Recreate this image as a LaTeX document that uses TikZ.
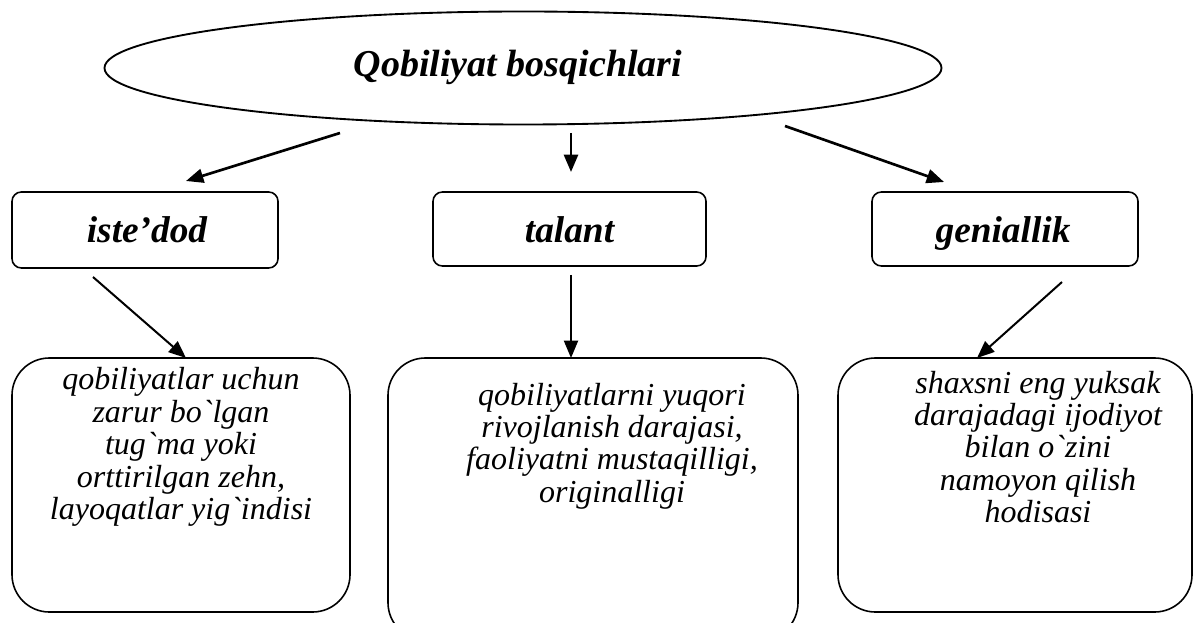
\documentclass[tikz,border=0pt]{standalone}
\usepackage{fontspec}
\setmainfont{Liberation Serif}[Ligatures=TeXOff]
\usetikzlibrary{shapes.geometric,arrows.meta}
\tikzset{
  ellbox/.style={draw,ellipse,line width=1.4pt,inner sep=0pt},
  smallbox/.style={draw,rectangle,rounded corners=7pt,line width=1.2pt,inner sep=0pt},
  bigbox/.style={draw,rectangle,rounded corners=28pt,line width=1.2pt,inner sep=0pt},
  boxtext/.style={align=center,font=\fontsize{24}{24.3}\selectfont\itshape,inner sep=0pt},
  titletext/.style={font=\fontsize{28.5}{30}\selectfont\bfseries\itshape,inner sep=0pt,anchor=base},
  headtext/.style={font=\fontsize{28}{30}\selectfont\bfseries\itshape,inner sep=0pt,anchor=base},
  toparrow/.style={line width=2pt,-{Triangle[length=13pt,width=10.5pt]}},
  lowarrow/.style={line width=1.5pt,-{Triangle[length=13pt,width=10.5pt]}}
}
\begin{document}
\begin{tikzpicture}[x=0.75pt,y=-0.75pt]
\useasboundingbox (0,0) rectangle (1194,623);
% title ellipse
\node[ellbox,minimum width=627.75pt,minimum height=84.75pt] (ell) at (523,68) {};
\node[titletext] (title) at (518,77) {Qobiliyat bosqichlari};
% middle boxes
\node[smallbox,minimum width=199.5pt,minimum height=57pt] (b1) at (145,230) {};
\node[headtext] (l1) at (147,243) {iste’dod};
\node[smallbox,minimum width=204.75pt,minimum height=55.5pt] (b2) at (569.5,229) {};
\node[headtext] (l2) at (569.5,243) {talant};
\node[smallbox,minimum width=199.5pt,minimum height=55.5pt] (b3) at (1005,229) {};
\node[headtext] (l3) at (1003,243) {geniallik};
% bottom boxes
\node[bigbox,minimum width=253.5pt,minimum height=190.5pt] (c1) at (181,485) {};
\node[boxtext] (t1) at (181,447) {qobiliyatlar uchun\\zarur bo`lgan\\tug`ma yoki\\orttirilgan zehn,\\layoqatlar yig`indisi};
\node[bigbox,minimum width=307.5pt,minimum height=211.5pt] (c2) at (593,499) {};
\node[boxtext] (t2) at (612,446) {qobiliyatlarni yuqori\\rivojlanish darajasi,\\faoliyatni mustaqilligi,\\originalligi};
\node[bigbox,minimum width=265.5pt,minimum height=190.5pt] (c3) at (1015,485) {};
\node[boxtext] (t3) at (1038,447) {shaxsni eng yuksak\\darajadagi ijodiyot\\bilan o`zini\\namoyon qilish\\hodisasi};
% arrow end points
\coordinate (s1) at (340,133);
\coordinate (e1) at (186,181);
\coordinate (s2) at (571,133);
\coordinate (e2) at (571,172);
\coordinate (s3) at (785,126);
\coordinate (e3) at (944,182);
\coordinate (s4) at (93,277);
\coordinate (e4) at (186,358);
\coordinate (s5) at (571,275);
\coordinate (e5) at (571,358);
\coordinate (s6) at (1062,282);
\coordinate (e6) at (977,358);
\draw[toparrow] (s1) -- (e1);
\draw[toparrow] (s2) -- (e2);
\draw[toparrow] (s3) -- (e3);
\draw[lowarrow] (s4) -- (e4);
\draw[lowarrow] (s5) -- (e5);
\draw[lowarrow] (s6) -- (e6);
\end{tikzpicture}
\end{document}
